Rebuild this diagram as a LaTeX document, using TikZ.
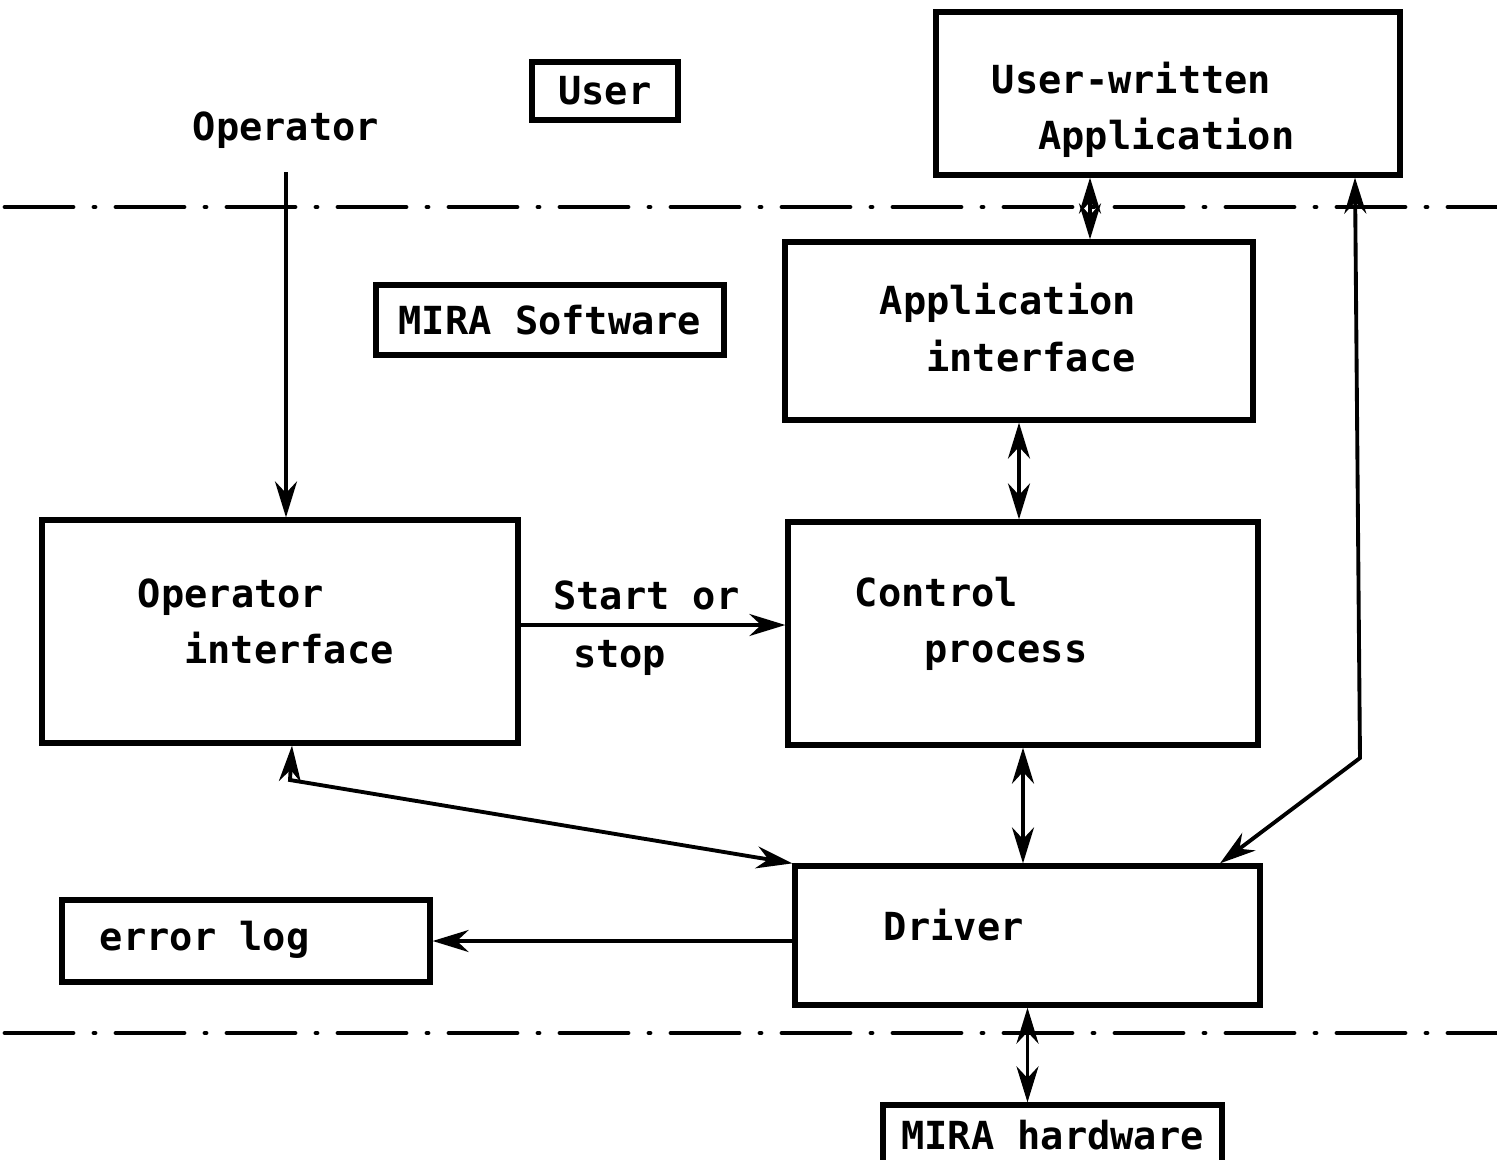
\documentclass[tikz,border=0pt]{standalone}
\usepackage{fontspec}
\setmonofont{DejaVu Sans Mono}
\usepackage{tikz}
\usetikzlibrary{arrows.meta}
\newcommand{\mirafont}{\ttfamily\bfseries\fontsize{11}{16}\selectfont}
\tikzset{>={Stealth[width=2.2mm,length=3.6mm]}}
\tikzstyle{flat-box}=[rectangle, draw=black, line width=1.5pt, inner sep=0pt, font=\mirafont]
\tikzstyle{box-text}=[anchor=west, align=left, inner sep=0pt, font=\mirafont]
\tikzstyle{layer-line}=[line width=1.4pt, line cap=round, dash pattern=on 0.68cm off 0.21cm on 0.01cm off 0.21cm]

\begin{document}
\begin{tikzpicture}[line width=1.1pt]
  \useasboundingbox (0,0) rectangle (14.97,-11.6);

  % layer boundaries
  \draw[layer-line] (0.05,-2.07) -- (14.97,-2.07);
  \draw[layer-line] (0.05,-10.33) -- (14.97,-10.33);

  % layer titles
  \node[flat-box, minimum width=1.46cm, minimum height=0.58cm] (user) at (6.05,-0.91) {User};
  \node[flat-box, minimum width=3.48cm, minimum height=0.70cm] (mirasw) at (5.50,-3.20) {MIRA Software};
  \node[flat-box, minimum width=3.39cm, minimum height=0.60cm] (mirahw) at (10.525,-11.35) {MIRA hardware};

  % blocks
  \node[flat-box, minimum width=4.64cm, minimum height=1.63cm] (uwapp) at (11.68,-0.935) {};
  \node[flat-box, minimum width=4.68cm, minimum height=1.78cm] (appif) at (10.19,-3.31) {};
  \node[flat-box, minimum width=4.76cm, minimum height=2.23cm] (opif) at (2.80,-6.315) {};
  \node[flat-box, minimum width=4.70cm, minimum height=2.23cm] (ctrl) at (10.23,-6.335) {};
  \node[flat-box, minimum width=4.65cm, minimum height=1.39cm] (driver) at (10.275,-9.355) {};
  \node[flat-box, minimum width=3.68cm, minimum height=0.82cm] (errlog) at (2.46,-9.41) {};

  % block texts
  \node[box-text] (uwtext) at (9.90,-1.10) {User-written\\\hspace*{1.2em}Application};
  \node[box-text] (apptext) at (8.78,-3.275) {Application\\\hspace*{1.2em}interface};
  \node[box-text] (optext) at (1.36,-6.215) {Operator\\\hspace*{1.2em}interface};
  \node[box-text] (ctrltext) at (8.53,-6.24) {Control\\\hspace*{1.8em}process};
  \node[box-text] (drvtext) at (8.82,-9.25) {Driver};
  \node[box-text] (errtext) at (0.98,-9.40) {error log};
  \node[font=\mirafont] (operator) at (2.86,-1.30) {Operator};

  % helper points
  \coordinate (ss) at (5.18,-6.25);
  \coordinate (colA) at (10.90,0);
  \coordinate (colB) at (13.55,0);
  \coordinate (knee) at (13.60,-7.58);
  \coordinate (colC) at (12.20,0);
  \coordinate (drop) at (2.90,-7.80);

  % connections
  \draw[->] ([yshift=-1mm]operator.south) -- (operator.south |- opif.north);
  \draw[->] (ss) -- (ss -| ctrl.west)
      node[pos=0.48, above=0.5pt, font=\mirafont] {Start or}
      node[pos=0.38, below=0.5pt, font=\mirafont] {stop};
  \draw[<->] (colA |- uwapp.south) -- (colA |- appif.north);
  \draw[<->] (appif.south) -- (appif.south |- ctrl.north);
  \draw[<->] (ctrl.south) -- (ctrl.south |- driver.north);
  \draw[<->] (driver.south) -- (driver.south |- mirahw.north);
  \draw[<->] (colB |- uwapp.south) -- (knee) -- (colC |- driver.north);
  \draw[<->] ([xshift=1.2mm]opif.south) -- (drop) -- (driver.north west);
  \draw[->] (driver.west |- errlog.east) -- (errlog.east);
\end{tikzpicture}
\end{document}
